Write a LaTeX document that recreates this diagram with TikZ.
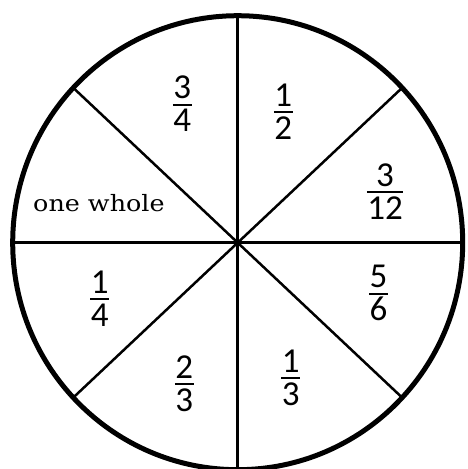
\documentclass[tikz,border=0pt]{standalone}
\usepackage{fontspec}
\usepackage{graphicx}
\setmainfont{Carlito}
\newfontfamily\wholefont{DejaVu Serif}
\newcommand{\fr}[2]{{\renewcommand{\arraystretch}{0}\setlength{\arrayrulewidth}{2pt}\setlength{\tabcolsep}{0pt}\begin{tabular}{@{\hspace{0.5pt}}c@{\hspace{0.5pt}}}\rule[-5pt]{0pt}{25pt}#1\\\hline\rule[-1pt]{0pt}{27pt}#2\end{tabular}}}
\begin{document}
\begin{tikzpicture}[x=1pt,y=-1pt,
  spoke/.style={line width=2.5pt},
  rim/.style={line width=5pt},
  frac/.style={inner sep=0pt, font=\fontsize{35}{42}\selectfont},
  lbl/.style={inner sep=0pt, font=\wholefont\fontsize{22.5}{27}\selectfont, anchor=base west}]
\useasboundingbox (0,0) rectangle (467,469);
\fill[white] (0,0) rectangle (467,469);
\coordinate (O) at (237.7,242.7);
\coordinate (pN) at (237.7,15.7);
\coordinate (pS) at (237.7,469.7);
\coordinate (pW) at (12.7,242.7);
\coordinate (pE) at (462.7,242.7);
\coordinate (pNW) at (74.2,88.7);
\coordinate (pNE) at (401.2,88.7);
\coordinate (pSW) at (74.2,396.7);
\coordinate (pSE) at (401.2,396.7);
\draw[spoke] (pN) -- (O) -- (pS);
\draw[spoke] (pW) -- (O) -- (pE);
\draw[spoke] (pNW) -- (O) -- (pSE);
\draw[spoke] (pNE) -- (O) -- (pSW);
\draw[rim] (O) ellipse [x radius=225pt, y radius=227pt];
\node[frac] (f34) at (182.3,104.5) {\fr{3}{4}};
\node[frac] (f12) at (283.3,112) {\fr{1}{2}};
\node[frac] (f312) at (385,192) {\fr{3}{12}};
\node[frac] (f56) at (378.6,293.3) {\fr{5}{6}};
\node[frac] (f13) at (290.8,378) {\fr{1}{3}};
\node[frac] (f23) at (184.2,384) {\fr{2}{3}};
\node[frac] (f14) at (99.7,299) {\fr{1}{4}};
\node[lbl] (whole) at (33,211.7) {\scalebox{1.13}[1]{one whole}};
\end{tikzpicture}
\end{document}
